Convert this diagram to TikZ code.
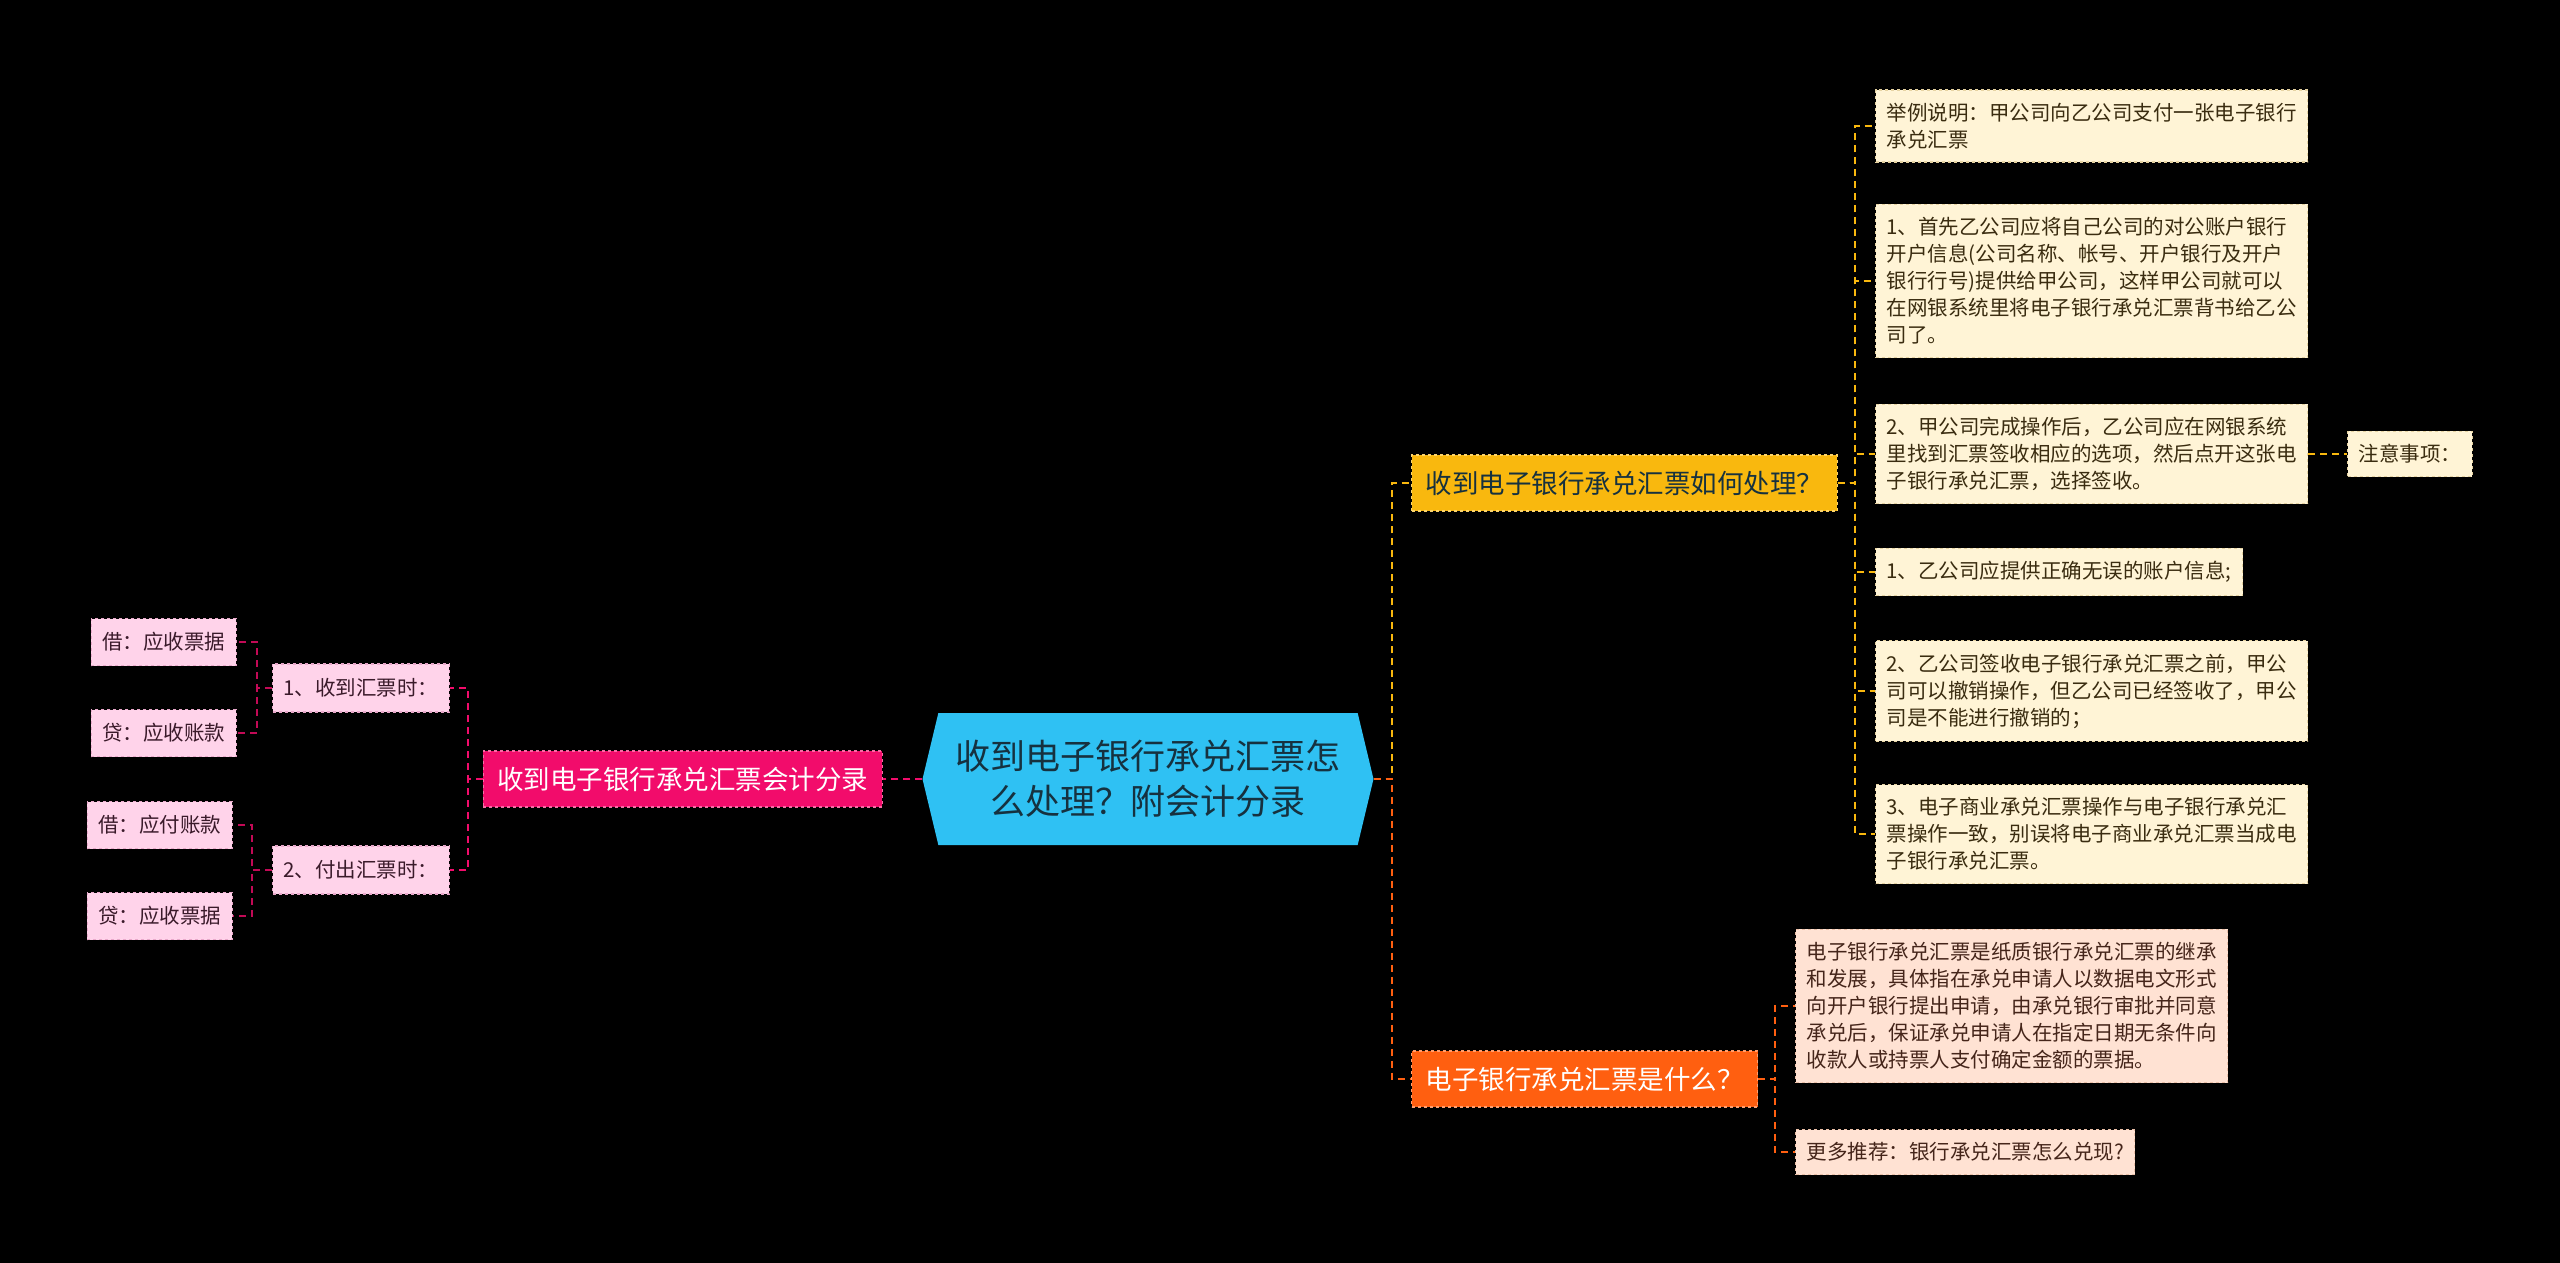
\documentclass[tikz,border=0pt]{standalone}
\usepackage{fontspec}
\setmainfont{Noto Sans CJK SC}
\usetikzlibrary{positioning,shapes.symbols}

\definecolor{rootblue}{HTML}{2FC1F3}
\definecolor{rootink}{HTML}{16313F}
\definecolor{topicyellow}{HTML}{F9B80E}
\definecolor{topicorange}{HTML}{FF5F10}
\definecolor{topicpink}{HTML}{F20C6B}
\definecolor{creamfill}{HTML}{FFF4D6}
\definecolor{creamedge}{HTML}{E6D3A2}
\definecolor{creamink}{HTML}{3A2C10}
\definecolor{peachfill}{HTML}{FFE2D3}
\definecolor{peachedge}{HTML}{EBC0A8}
\definecolor{peachink}{HTML}{45251A}
\definecolor{blushfill}{HTML}{FFD3EA}
\definecolor{blushedge}{HTML}{E9A9CB}
\definecolor{blushink}{HTML}{3A1A2A}

\begin{document}
\begin{tikzpicture}[
  x=1pt, y=-1pt,
  root/.style={
    signal, signal to=east and west, signal pointer angle=153,
    fill=rootblue, text=rootink, inner sep=0,
    minimum width=451, minimum height=132,
    align=center, font=\fontsize{35}{45}\selectfont,
  },
  topic/.style={
    draw, dashed, line width=1.2, minimum height=56, inner xsep=14,
    font=\fontsize{26.5}{32}\selectfont,
  },
  leaf/.style={
    draw, dashed, line width=1.2, inner xsep=11, inner ysep=13,
    align=left, font=\fontsize{20.5}{27}\selectfont,
  },
  cream/.style={leaf, fill=creamfill, draw=creamedge, text=creamink},
  peach/.style={leaf, fill=peachfill, draw=peachedge, text=peachink},
  blush/.style={leaf, fill=blushfill, draw=blushedge, text=blushink,
    inner ysep=0, minimum height=47},
  link/.style={line width=2.5, dash pattern=on 7 off 5},
  ylink/.style={link, draw=topicyellow},
  olink/.style={link, draw=topicorange},
  plink/.style={link, draw=topicpink},
  llink/.style={link, draw=topicpink!80!black, line width=2},
]

\fill[black] (0,0) rectangle (2560,1263);
\useasboundingbox (0,0) rectangle (2560,1263);

% centre
\node[root] (root) at (1148,779) {收到电子银行承兑汇票怎\\么处理？附会计分录};

% right branch
\node[topic, fill=topicyellow, draw=topicyellow!60!white, text=rootink, anchor=west]
  (howto) at (1411,483) {收到电子银行承兑汇票如何处理？};
\node[topic, fill=topicorange, draw=topicorange!60!white, text=white, anchor=west]
  (what) at (1411,1079) {电子银行承兑汇票是什么？};

\node[cream, anchor=west] (r1) at (1875,126) {举例说明：甲公司向乙公司支付一张电子银行\\承兑汇票};
\node[cream, anchor=west] (r2) at (1875,281) {1、首先乙公司应将自己公司的对公账户银行\\开户信息(公司名称、帐号、开户银行及开户\\银行行号)提供给甲公司，这样甲公司就可以\\在网银系统里将电子银行承兑汇票背书给乙公\\司了。};
\node[cream, anchor=west] (r3) at (1875,454) {2、甲公司完成操作后，乙公司应在网银系统\\里找到汇票签收相应的选项，然后点开这张电\\子银行承兑汇票，选择签收。};
\node[cream, anchor=west] (note) at (2347,454) {注意事项：};
\node[cream, anchor=west] (r4) at (1875,572) {1、乙公司应提供正确无误的账户信息;};
\node[cream, anchor=west] (r5) at (1875,691) {2、乙公司签收电子银行承兑汇票之前，甲公\\司可以撤销操作，但乙公司已经签收了，甲公\\司是不能进行撤销的；};
\node[cream, anchor=west] (r6) at (1875,834) {3、电子商业承兑汇票操作与电子银行承兑汇\\票操作一致，别误将电子商业承兑汇票当成电\\子银行承兑汇票。};

\node[peach, anchor=west] (w1) at (1795,1006) {电子银行承兑汇票是纸质银行承兑汇票的继承\\和发展，具体指在承兑申请人以数据电文形式\\向开户银行提出申请，由承兑银行审批并同意\\承兑后，保证承兑申请人在指定日期无条件向\\收款人或持票人支付确定金额的票据。};
\node[peach, anchor=west] (w2) at (1795,1152) {更多推荐：银行承兑汇票怎么兑现?};

% left branch
\node[topic, fill=topicpink, draw=topicpink!60!white, text=white, anchor=east]
  (acct) at (883,779) {收到电子银行承兑汇票会计分录};
\node[blush, anchor=east, minimum height=48] (get) at (450,688) {1、收到汇票时：};
\node[blush, anchor=east, minimum height=48] (pay) at (450,870) {2、付出汇票时：};
\node[blush, anchor=east] (get1) at (237,642) {借：应收票据};
\node[blush, anchor=east] (get2) at (237,733) {贷：应收账款};
\node[blush, anchor=east] (pay1) at (233,825) {借：应付账款};
\node[blush, anchor=east] (pay2) at (233,916) {贷：应收票据};

% bus points
\coordinate (rbus) at (1392,779);
\coordinate (ybus) at (1855,483);
\coordinate (obus) at (1775,1079);
\coordinate (pbus) at (468,779);
\coordinate (gbus) at (257,688);
\coordinate (qbus) at (252,870);

\draw[ylink] (root.east) -- (rbus) |- (howto.west);
\draw[olink] (root.east) -- (rbus) |- (what.west);
\foreach \n in {r1,r2,r3,r4,r5,r6}
  \draw[ylink] (howto.east) -- (ybus) |- (\n.west);
\draw[ylink] (r3.east) -- (note.west);
\foreach \n in {w1,w2}
  \draw[olink] (what.east) -- (obus) |- (\n.west);

\draw[plink] (root.west) -- (acct.east);
\foreach \n in {get,pay}
  \draw[plink] (acct.west) -- (pbus) |- (\n.east);
\foreach \n in {get1,get2}
  \draw[llink] (get.west) -- (gbus) |- (\n.east);
\foreach \n in {pay1,pay2}
  \draw[llink] (pay.west) -- (qbus) |- (\n.east);

\end{tikzpicture}
\end{document}
